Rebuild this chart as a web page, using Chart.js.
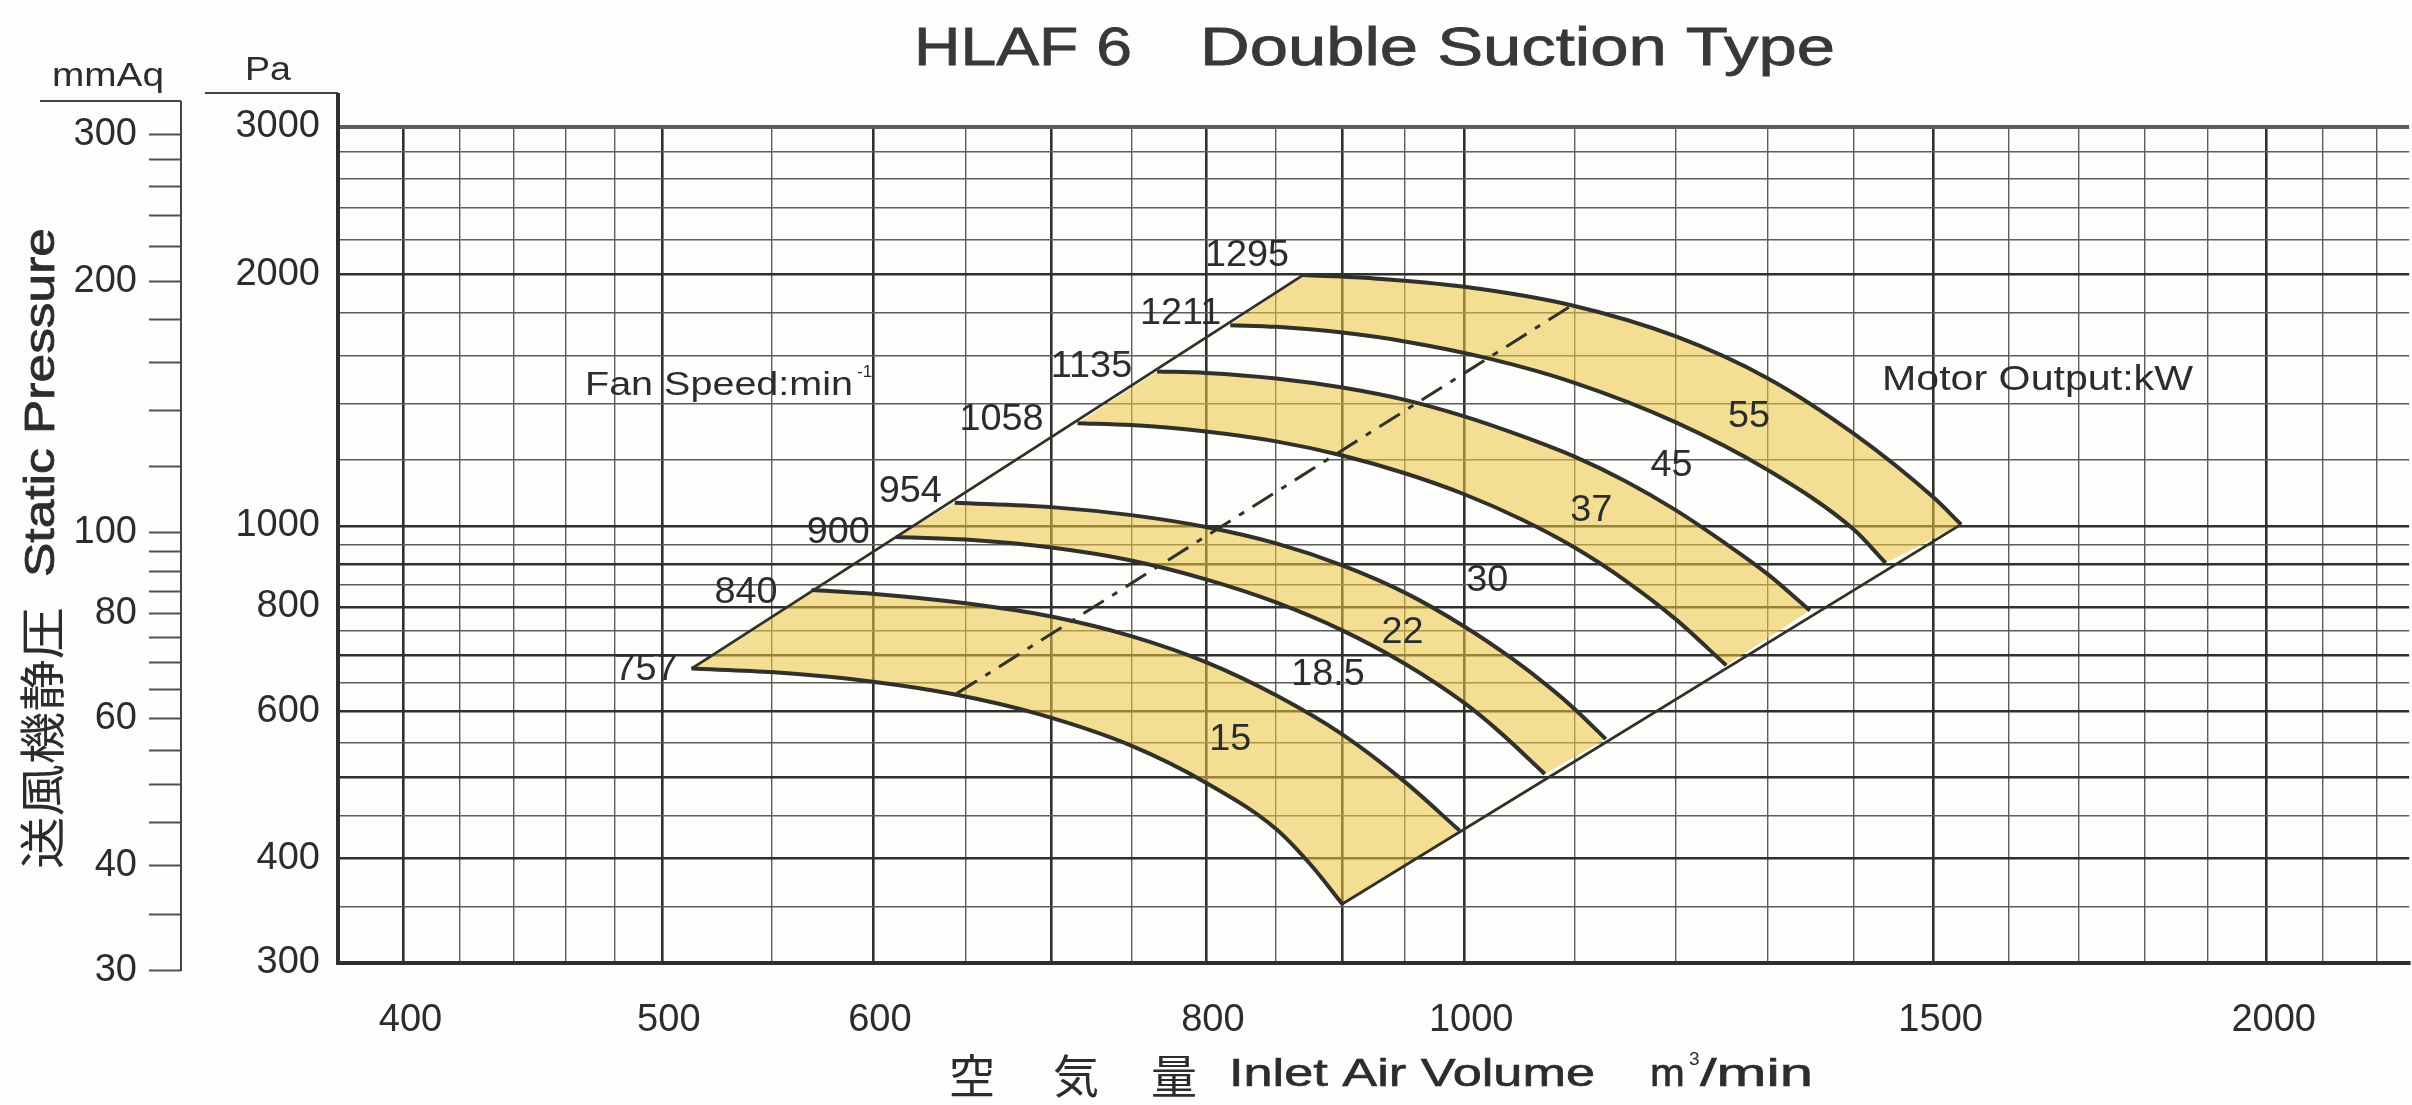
<!DOCTYPE html>
<html>
<head>
<meta charset="utf-8">
<title>HLAF 6 Double Suction Type</title>
<script src="https://cdn.jsdelivr.net/npm/chart.js@4.4.1/dist/chart.umd.min.js"></script>
<style>
    html, body { margin: 0; padding: 0; background: #ffffff; }
    canvas { display: block; }
</style>
</head>
<body>
<canvas id="fanChart" width="2412" height="1105"></canvas>
<script>
// Fan performance chart, HLAF 6 double suction type
// log-log: inlet air volume (m3/min) vs static pressure (Pa / mmAq)

// Fan speed curves, [air volume, static pressure Pa]
const speeds = ['757', '840', '900', '954', '1058', '1135', '1211', '1295'];
const curve757 = [[513, 675], [551, 668], [600, 651], [645, 628], [693, 595], [750, 546], [800, 493], [850, 434], [876, 393], [900, 353]];
const curve840 = [[569, 838], [601, 829], [650, 808], [700, 779], [750, 738], [800, 687], [850, 627], [900, 563], [950, 494], [996, 432]];
const curve900 = [[612, 970], [650, 963], [700, 942], [750, 909], [800, 863], [850, 810], [900, 750], [950, 684], [1000, 614], [1031, 567], [1072, 505]];
const curve954 = [[644, 1066], [700, 1053], [750, 1030], [800, 997], [850, 953], [900, 897], [950, 832], [1000, 758], [1042, 694], [1077, 640], [1100, 604], [1130, 556]];
const curve1058 = [[716, 1327], [750, 1320], [800, 1297], [850, 1262], [900, 1214], [950, 1156], [1000, 1091], [1050, 1019], [1100, 942], [1150, 859], [1200, 774], [1254, 681]];
const curve1135 = [[767, 1530], [800, 1524], [850, 1501], [900, 1464], [950, 1415], [1000, 1352], [1050, 1282], [1100, 1210], [1150, 1130], [1200, 1045], [1250, 958], [1300, 875], [1348, 792]];
const curve1211 = [[817, 1738], [850, 1730], [900, 1703], [950, 1662], [1021, 1586], [1100, 1483], [1200, 1331], [1300, 1166], [1400, 990], [1439, 903]];
const curve1295 = [[870, 1995], [925, 1977], [1000, 1932], [1098, 1835], [1200, 1686], [1300, 1501], [1400, 1289], [1500, 1081], [1536, 1004]];

// dash-dot system line
const systemLine = [[645, 630], [1098, 1838]];

// motor output labels and where they sit (air volume, Pa)
const motorOutputs = ['15', '18.5', '22', '30', '37', '45', '55'];
const motorLabelAt = [[817, 555], [889, 663], [948, 745], [1020, 859], [1116, 1042], [1196, 1178], [1279, 1350]];

// axes
const xGrid = [400, 420, 440, 460, 480, 500, 550, 600, 650, 700, 750, 800, 850, 900, 950, 1000,
    1100, 1200, 1300, 1400, 1500, 1600, 1700, 1800, 1900, 2000, 2100, 2200];
const xLabels = [400, 500, 600, 800, 1000, 1500, 2000];
const xHeavy = [400, 500, 600, 700, 800, 900, 1000, 1500, 2000];
const paGrid = [300, 350, 400, 450, 500, 550, 600, 650, 700, 750, 800, 850, 900, 950, 1000,
    1200, 1400, 1600, 1800, 2000, 2200, 2400, 2600, 2800, 3000];
const paLabels = [300, 400, 600, 800, 1000, 2000, 3000];
const paHeavy = [400, 500, 600, 700, 800, 900, 1000, 2000];
const mmAqTicks = [30, 35, 40, 45, 50, 55, 60, 65, 70, 75, 80, 85, 90, 95, 100,
    120, 140, 160, 180, 200, 220, 240, 260, 280, 300];
const mmAqLabels = [30, 40, 60, 80, 100, 200, 300];
const PA_PER_MMAQ = 9.80665;

const latin = '"Liberation Sans", Arial, Helvetica, sans-serif';
const cjk = '"Noto Sans CJK JP", "Noto Sans CJK SC", sans-serif';
const ink = '#313129';
const textColor = '#2c2c2c';
const heavyGrid = '#2f2f2f';
const lightGrid = '#5c5c5c';
const bandFill = 'rgba(236, 198, 66, 0.56)';

// label nudges relative to the start of each speed curve (px)
const speedLabelShift = [[-14, 2], [-34, 3], [-26, -4], [-13, -11], [-34, -3], [-25, -4], [-9, -11], [-14, -19]];

const curves = [curve757, curve840, curve900, curve954, curve1058, curve1135, curve1211, curve1295];

function pts(arr) {
    return arr.map(p => ({ x: p[0], y: p[1] }));
}

function band(lower, upper) {
    return pts(lower.concat(upper.slice().reverse(), [lower[0]]));
}

function last(arr) {
    return arr[arr.length - 1];
}

function drawText(ctx, s, x, y, o) {
    ctx.save();
    ctx.font = (o.weight || 'normal') + ' ' + o.size + 'px ' + (o.family || latin);
    ctx.fillStyle = o.color || textColor;
    ctx.textBaseline = o.baseline || 'middle';
    ctx.textAlign = 'left';
    const w = ctx.measureText(s).width;
    const sx = o.width ? o.width / w : (o.stretch || 1);
    ctx.translate(x, y);
    if (o.rotate) ctx.rotate(o.rotate);
    ctx.scale(sx, 1);
    const align = o.align || 'left';
    const off = align === 'left' ? 0 : (align === 'right' ? -w : -w / 2);
    ctx.fillText(s, off, 0);
    if (o.bold) {
        // a thin outline to thicken the strokes a little
        ctx.strokeStyle = o.color || textColor;
        ctx.lineWidth = o.bold;
        ctx.strokeText(s, off, 0);
    }
    ctx.restore();
}

function line(ctx, x1, y1, x2, y2, w, color) {
    ctx.save();
    ctx.strokeStyle = color;
    ctx.lineWidth = w;
    ctx.beginPath();
    ctx.moveTo(x1, y1);
    ctx.lineTo(x2, y2);
    ctx.stroke();
    ctx.restore();
}

const paperPlugin = {
    id: 'paper',
    beforeDraw(chart) {
        const ctx = chart.ctx;
        ctx.save();
        ctx.fillStyle = '#fdfdfb';
        ctx.fillRect(0, 0, chart.width, chart.height);
        ctx.restore();
    }
};

const notesPlugin = {
    id: 'notes',
    afterDraw(chart) {
        const ctx = chart.ctx;
        const xs = chart.scales.x;
        const ys = chart.scales.y;
        const mm = chart.scales.mm;
        const area = chart.chartArea;

        // title
        drawText(ctx, 'HLAF 6', 914, 65, { size: 54, width: 218, baseline: 'alphabetic', bold: 0.8, color: '#383838' });
        drawText(ctx, 'Double Suction Type', 1200, 65, { size: 54, width: 635, baseline: 'alphabetic', bold: 0.8, color: '#383838' });

        // unit headers and their rules
        drawText(ctx, 'mmAq', 108, 86, { size: 33, width: 112, align: 'center', baseline: 'alphabetic' });
        drawText(ctx, 'Pa', 268, 80, { size: 33, width: 46, align: 'center', baseline: 'alphabetic' });
        line(ctx, 40, 101, 181, 101, 2, '#444');
        line(ctx, 181, 101, 181, mm.getPixelForValue(30) + 1, 2, '#444');
        line(ctx, 205, 93, 338, 93, 2, '#444');
        line(ctx, area.left, 93, area.left, area.top, 4, heavyGrid);

        // y title (rotated)
        drawText(ctx, '送風機静圧', 42, 869, { size: 46, family: cjk, width: 262, rotate: -Math.PI / 2 });
        drawText(ctx, 'Static Pressure', 42, 577, { size: 43, width: 349, rotate: -Math.PI / 2, bold: 0.8 });

        // x title
        drawText(ctx, '空', 949, 1076, { size: 46, family: cjk });
        drawText(ctx, '気', 1053, 1076, { size: 46, family: cjk });
        drawText(ctx, '量', 1151, 1076, { size: 46, family: cjk });
        drawText(ctx, 'Inlet Air Volume', 1229, 1076, { size: 38, width: 366, bold: 0.6 });
        drawText(ctx, 'm', 1650, 1076, { size: 38, stretch: 1.1, bold: 0.6 });
        drawText(ctx, '3', 1689, 1060, { size: 19 });
        drawText(ctx, '/min', 1700, 1076, { size: 38, width: 113, bold: 0.6 });

        // speed labels at the start of each curve
        curves.forEach((c, i) => {
            const px = xs.getPixelForValue(c[0][0]);
            const py = ys.getPixelForValue(c[0][1]);
            drawText(ctx, speeds[i], px + speedLabelShift[i][0], py + speedLabelShift[i][1],
                { size: 36, align: 'right', stretch: 1.05 });
        });

        // motor output labels
        motorOutputs.forEach((m, i) => {
            const px = xs.getPixelForValue(motorLabelAt[i][0]);
            const py = ys.getPixelForValue(motorLabelAt[i][1]);
            drawText(ctx, m, px, py, { size: 36, align: 'center', stretch: 1.05 });
        });

        drawText(ctx, 'Fan Speed:min', 585, 386, { size: 33, width: 268 });
        drawText(ctx, '-1', 857, 372, { size: 17 });
        drawText(ctx, 'Motor Output:kW', 1882, 380, { size: 35, width: 311 });
    }
};

function gridStyle(heavyList, edges) {
    return {
        color: c => (c.tick && heavyList.includes(c.tick.value)) ? heavyGrid : lightGrid,
        lineWidth: c => {
            if (!c.tick) return 1.4;
            if (edges && edges.includes(c.tick.value)) return 4;
            return heavyList.includes(c.tick.value) ? 2.6 : 1.4;
        },
        drawTicks: false
    };
}

document.addEventListener('DOMContentLoaded', function () {
    const canvas = document.getElementById('fanChart');

    const datasets = [];

    // yellow motor bands
    [[curve757, curve840], [curve900, curve954], [curve1058, curve1135], [curve1211, curve1295]].forEach(pair => {
        datasets.push({
            data: band(pair[0], pair[1]),
            showLine: true,
            fill: 'shape',
            backgroundColor: bandFill,
            borderColor: 'transparent',
            borderWidth: 0,
            pointRadius: 0,
            tension: 0,
            order: 3
        });
    });

    curves.forEach(c => {
        datasets.push({
            data: pts(c),
            showLine: true,
            fill: false,
            borderColor: ink,
            borderWidth: 4,
            borderJoinStyle: 'round',
            pointRadius: 0,
            cubicInterpolationMode: 'monotone',
            order: 1
        });
    });

    // left and right limit lines
    datasets.push({
        data: pts([curve757[0], curve1295[0]]),
        showLine: true, fill: false, borderColor: ink, borderWidth: 2.8, pointRadius: 0, order: 1
    });
    datasets.push({
        data: pts([last(curve757), last(curve1295)]),
        showLine: true, fill: false, borderColor: ink, borderWidth: 2.8, pointRadius: 0, order: 1
    });

    datasets.push({
        data: pts(systemLine),
        showLine: true, fill: false, borderColor: ink, borderWidth: 3,
        borderDash: [24, 10, 6, 10], pointRadius: 0, order: 1
    });

    new Chart(canvas, {
        type: 'scatter',
        data: { datasets: datasets },
        options: {
            responsive: false,
            devicePixelRatio: 1,
            animation: false,
            layout: { padding: { top: 127, left: 0, right: 0, bottom: 0 } },
            plugins: {
                legend: { display: false },
                tooltip: { enabled: false }
            },
            scales: {
                x: {
                    type: 'logarithmic',
                    min: 378,
                    max: 2262,
                    bounds: 'data',
                    afterBuildTicks: s => { s.ticks = xGrid.map(v => ({ value: v })); },
                    afterFit: s => { s.height = 142; },
                    grid: gridStyle(xHeavy, null),
                    border: { display: true, color: heavyGrid, width: 4 },
                    ticks: {
                        autoSkip: false,
                        maxRotation: 0,
                        minRotation: 0,
                        padding: 35,
                        labelOffset: 7,
                        color: textColor,
                        font: { family: latin, size: 38 },
                        callback: v => xLabels.includes(v) ? String(v) : ''
                    }
                },
                y: {
                    type: 'logarithmic',
                    position: 'left',
                    weight: 0,
                    min: 300,
                    max: 3000,
                    bounds: 'data',
                    afterBuildTicks: s => { s.ticks = paGrid.map(v => ({ value: v })); },
                    afterFit: s => { s.width = 157; },
                    grid: gridStyle(paHeavy, [300, 3000]),
                    border: { display: true, color: heavyGrid, width: 4 },
                    ticks: {
                        autoSkip: false,
                        padding: 18,
                        color: textColor,
                        font: { family: latin, size: 38 },
                        callback: v => paLabels.includes(v) ? String(v) : ''
                    }
                },
                mm: {
                    type: 'logarithmic',
                    position: 'left',
                    weight: 1,
                    min: 300 / PA_PER_MMAQ,
                    max: 3000 / PA_PER_MMAQ,
                    bounds: 'data',
                    afterBuildTicks: s => { s.ticks = mmAqTicks.map(v => ({ value: v })); },
                    afterFit: s => { s.width = 181; },
                    grid: {
                        drawOnChartArea: false,
                        drawTicks: true,
                        tickLength: 32,
                        tickWidth: 2,
                        tickColor: '#505050'
                    },
                    border: { display: false },
                    ticks: {
                        autoSkip: false,
                        padding: 12,
                        color: textColor,
                        font: { family: latin, size: 38 },
                        callback: v => mmAqLabels.includes(v) ? String(v) : ''
                    }
                }
            }
        },
        plugins: [paperPlugin, notesPlugin]
    });
});
</script>
</body>
</html>
